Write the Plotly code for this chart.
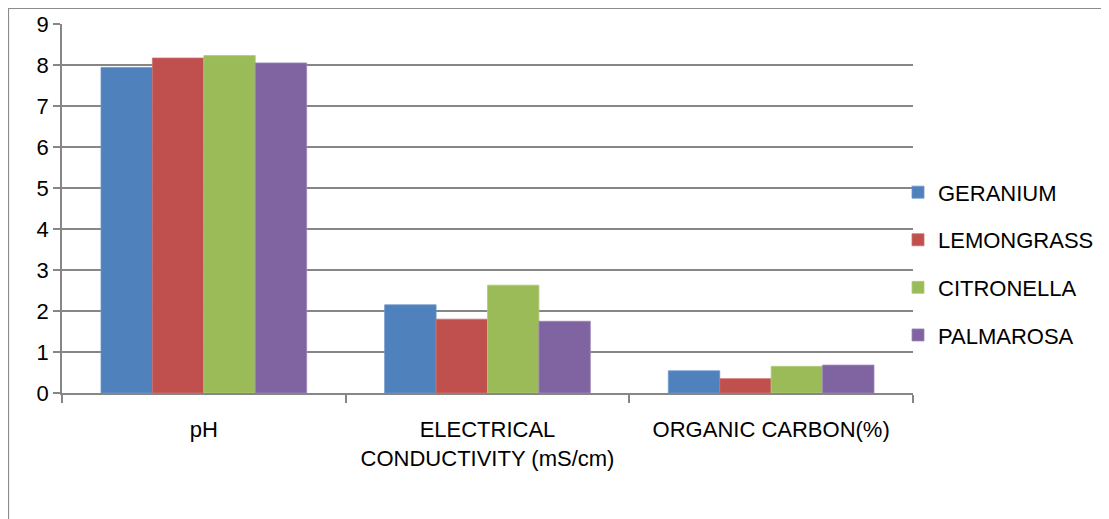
import plotly.graph_objects as go

categories = ["pH", "ELECTRICAL<br>CONDUCTIVITY (mS/cm)", "ORGANIC CARBON(%)"]
series_names = ["GERANIUM", "LEMONGRASS", "CITRONELLA", "PALMAROSA"]
geranium = [7.94, 2.15, 0.54]
lemongrass = [8.17, 1.80, 0.35]
citronella = [8.23, 2.63, 0.65]
palmarosa = [8.05, 1.75, 0.68]
y_ticks = [0, 1, 2, 3, 4, 5, 6, 7, 8, 9]

colors = ["#4F81BD", "#C0504D", "#9BBB59", "#8064A2"]
edge = ["#6A95CC", "#CD6F6C", "#B0CC7A", "#9B85B8"]
values = [geranium, lemongrass, citronella, palmarosa]

FONT = "Liberation Sans, Arial, sans-serif"

fig = go.Figure()
for i, (name, vals) in enumerate(zip(series_names, values)):
    fig.add_trace(go.Bar(
        x=categories, y=vals, name=name,
        marker=dict(color=colors[i], line=dict(color=edge[i], width=0.8)),
        legendgroup=name,
    ))

# page body has an 8px margin, so the figure is laid out 8px in from the window edge
W, H = 1101, 511
L, R, T, B = 54, 196, 16, 126
pw, ph = W - L - R, H - T - B

def px_x(p):
    return (p - L) / pw

def px_y(p):
    return (H - B - p) / ph

fig.update_layout(
    width=W, height=H,
    margin=dict(l=L, r=R, t=T, b=B, autoexpand=False),
    plot_bgcolor="white", paper_bgcolor="white",
    barmode="group", bargap=0.275, bargroupgap=0,
    font=dict(family=FONT, size=22, color="#000000"),
    legend=dict(
        x=px_x(890), xanchor="left", y=0.35, yanchor="middle",
        font=dict(family=FONT, size=22, color="#000000"),
        traceorder="grouped", tracegroupgap=16,
        bgcolor="rgba(0,0,0,0)",
        itemwidth=30,
    ),
    xaxis=dict(
        range=[-0.5, 2.5],
        showline=True, linecolor="#868686", linewidth=1.5,
        ticks="outside", tickson="boundaries", ticklen=8, tickcolor="#868686", tickwidth=1.5,
        showgrid=False, ticklabelstandoff=16,
        tickfont=dict(family=FONT, size=22),
    ),
    yaxis=dict(
        range=[0, 9], tickvals=y_ticks, ticktext=[str(v) for v in y_ticks],
        showline=True, linecolor="#868686", linewidth=1.5,
        ticks="outside", ticklen=7, tickcolor="#868686", tickwidth=1.5,
        showgrid=True, gridcolor="#868686", gridwidth=1.5,
        zeroline=False,
        tickfont=dict(family=FONT, size=22),
    ),
    shapes=[dict(
        type="rect", xref="paper", yref="paper",
        x0=px_x(0.5), x1=px_x(1095), y0=px_y(530), y1=px_y(0.5),
        line=dict(color="#8c8c8c", width=1.2), layer="below",
    )],
)

fig.write_html("out.html")
